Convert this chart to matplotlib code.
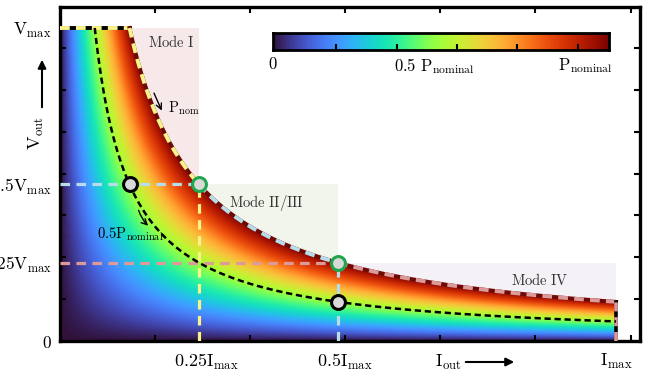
import numpy as np
import matplotlib
matplotlib.use('Agg')
import matplotlib.pyplot as plt
from matplotlib.patches import Rectangle
from matplotlib.transforms import ScaledTranslation

plt.rcParams['mathtext.fontset'] = 'cm'
plt.rcParams['font.family'] = ['DejaVu Serif']

# everything is normalised to Vmax = Imax = 1
P_NOM = 0.125
P_HALF = 0.5 * P_NOM

# operating modes
MODE_NAMES = [r'$\mathrm{Mode\ I}$', r'$\mathrm{Mode\ II/III}$', r'$\mathrm{Mode\ IV}$']
MODE_I = [(0.0, 0.25), (0.25, 0.5), (0.5, 1.0)]
MODE_V = [(0.5, 1.0), (0.25, 0.5), (0.0, 0.25)]
MODE_FILL = ['#f7e9e9', '#f2f5ec', '#f4f2f7']
MODE_EDGE = ['#f9f38a', '#b7dcea', '#dc9a9a']
MODE_TXT = [(0.2, 0.955), (0.371, 0.442), (0.863, 0.196)]

# corner points on Pnom and on 0.5 Pnom
CORNER_I = [0.25, 0.5]
CORNER_V = [0.5, 0.25]
HALF_I = [0.125, 0.5]
HALF_V = [0.5, 0.125]

X_TICKS = [0.25, 0.5, 1.0]
X_LABELS = [r'$\mathrm{0.25I_{max}}$', r'$\mathrm{0.5I_{max}}$', r'$\mathrm{I_{max}}$']
Y_TICKS = [0.0, 0.25, 0.5, 1.0]
Y_LABELS = [r'$\mathrm{0}$', r'$\mathrm{0.25V_{max}}$', r'$\mathrm{0.5V_{max}}$', r'$\mathrm{V_{max}}$']
X_MINOR = [0.171, 0.342, 0.513, 0.684, 0.855, 1.026]
Y_MINOR = [0.134, 0.267, 0.401, 0.535, 0.668, 0.802, 0.936]
CB_MINOR = [0.1875, 0.369, 0.548, 0.727, 0.907]

fig = plt.figure(figsize=(6.55, 3.74), dpi=100)
ax = fig.add_axes([60 / 655, 33 / 374, 580 / 655, 334 / 374])
ax.set_xlim(0, 1.043)
ax.set_ylim(0, 1.067)

for (i0, i1), (v0, v1), c in zip(MODE_I, MODE_V, MODE_FILL):
    ax.add_patch(Rectangle((i0, v0), i1 - i0, v1 - v0, color=c, lw=0, zorder=0))

# power map, blank above the Pnom hyperbola
n = 700
ii, vv = np.meshgrid(np.linspace(0, 1, n), np.linspace(0, 1, n))
pp = ii * vv
pp[pp > P_NOM] = np.nan
cmap = plt.get_cmap('turbo').copy()
cmap.set_bad((1, 1, 1, 0))
ax.imshow(pp, cmap=cmap, vmin=0, vmax=P_NOM, origin='lower', extent=(0, 1, 0, 1),
          aspect='auto', interpolation='bilinear', zorder=1)

dash = (0, (3, 2))
# guide lines to the corner points
ax.plot([0, 0.25], [0.5, 0.5], color=MODE_EDGE[1], lw=2.3, ls=dash, zorder=3)
ax.plot([0.25, 0.25], [0, 0.5], color=MODE_EDGE[0], lw=2.3, ls=dash, zorder=3)
ax.plot([0, 0.5], [0.25, 0.25], color=MODE_EDGE[2], lw=2.3, ls=dash, zorder=3)
ax.plot([0.5, 0.5], [0, 0.25], color=MODE_EDGE[1], lw=2.3, ls=dash, zorder=3)

# outer boundary
bd = (0, (2.5, 1.6))
ax.plot([0, P_NOM], [1, 1], color='black', lw=2.8, zorder=3)
ax.plot([0, P_NOM], [1, 1], color=MODE_EDGE[0], lw=2.8, ls=bd, zorder=3)
for (i0, i1), c in zip(MODE_I, MODE_EDGE):
    i = np.linspace(max(i0, P_NOM), i1, 200)
    ax.plot(i, P_NOM / i, color='#6e0a05', lw=2.8, zorder=3)
    ax.plot(i, P_NOM / i, color=c, lw=2.8, ls=bd, zorder=3)
ax.plot([1, 1], [0, P_NOM], color='black', lw=2.6, zorder=3)
ax.plot([1, 1], [0, P_NOM], color=MODE_EDGE[2], lw=2.6, ls=bd, zorder=3)

# 0.5 Pnom curve
i = np.linspace(P_HALF, 1, 300)
ax.plot(i, P_HALF / i, color='black', lw=1.8, ls=(0, (2.5, 1.5)), zorder=4)

ax.plot(HALF_I, HALF_V, 'o', ms=10, mfc='#d9d9d9', mec='black', mew=2.2, zorder=5)
ax.plot(CORNER_I, CORNER_V, 'o', ms=10, mfc='#d9d9d9', mec='#1fa64f', mew=2.2, zorder=5)

for name, (x, y) in zip(MODE_NAMES, MODE_TXT):
    ax.text(x, y, name, fontsize=10.5, color='#333333', ha='center', va='center', zorder=6)

ax.annotate('', xy=(0.185, 0.728), xytext=(0.167, 0.80),
            arrowprops=dict(arrowstyle='->', lw=1, color='black'), zorder=6)
ax.text(0.194, 0.744, r'$\mathrm{P_{nom}}$', fontsize=10.5, ha='left', va='center', zorder=6)
ax.annotate('', xy=(0.162, 0.362), xytext=(0.140, 0.426),
            arrowprops=dict(arrowstyle='->', lw=1, color='black',
                            connectionstyle='arc3,rad=0.15'), zorder=6)
ax.text(0.067, 0.34, r'$\mathrm{0.5P_{nominal}}$', fontsize=10.5, ha='left', va='center', zorder=6)

for s in ax.spines.values():
    s.set_linewidth(2.4)
ax.set_xticks(X_TICKS)
ax.set_xticklabels(X_LABELS)
ax.set_yticks(Y_TICKS)
ax.set_yticklabels(Y_LABELS)
ax.set_xticks(X_MINOR, minor=True)
ax.set_yticks(Y_MINOR, minor=True)
ax.tick_params(which='major', length=0)
ax.tick_params(axis='x', which='major', labelsize=13, pad=8)
ax.tick_params(axis='y', which='major', labelsize=12.5, pad=6)
ax.tick_params(which='minor', direction='in', length=4.5, width=1.5,
               top=True, right=True)
shift = ScaledTranslation(7 / 100, 0, fig.dpi_scale_trans)
for lab in ax.get_xticklabels()[:2]:
    lab.set_transform(lab.get_transform() + shift)

fig.text(448 / 655, 1 - 362 / 374, r'$\mathrm{I_{out}}$', fontsize=13, ha='center', va='center')
ax.annotate('', xy=(517, 374 - 362), xytext=(463, 374 - 362), xycoords='figure pixels',
            arrowprops=dict(arrowstyle='-|>', lw=1.5, color='black', mutation_scale=12))
fig.text(36 / 655, 1 - 133 / 374, r'$\mathrm{V_{out}}$', fontsize=13, rotation=90,
         ha='center', va='center')
ax.annotate('', xy=(42, 374 - 57), xytext=(42, 374 - 110), xycoords='figure pixels',
            arrowprops=dict(arrowstyle='-|>', lw=1.5, color='black', mutation_scale=12))

# colour bar
cax = fig.add_axes([273 / 655, 1 - 50 / 374, 336 / 655, 17 / 374])
cax.imshow(np.linspace(0, 1, 256)[None, :], cmap='turbo', aspect='auto', extent=(0, 1, 0, 1))
for s in cax.spines.values():
    s.set_linewidth(2)
cax.set_xticks([])
cax.set_yticks([])
cax.set_xticks(CB_MINOR, minor=True)
cax.tick_params(which='minor', direction='in', length=4, width=1.5)
cax.text(0.0, -0.35, r'$\mathrm{0}$', transform=cax.transAxes, fontsize=12, ha='center', va='top')
cax.text(0.48, -0.35, r'$\mathrm{0.5\ P_{nominal}}$', transform=cax.transAxes, fontsize=12,
         ha='center', va='top')
cax.text(1.01, -0.35, r'$\mathrm{P_{nominal}}$', transform=cax.transAxes, fontsize=12,
         ha='right', va='top')

fig.savefig('out.png', dpi=100)
